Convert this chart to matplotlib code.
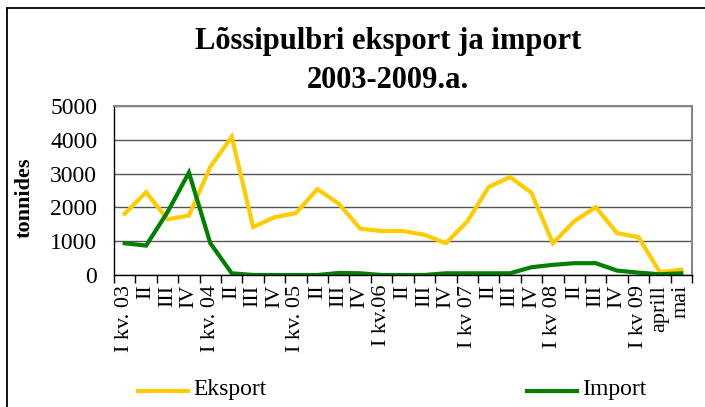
import matplotlib
matplotlib.use("Agg")
import matplotlib.pyplot as plt
from matplotlib.lines import Line2D
import numpy as np

categories = ["I kv. 03", "II", "III", "IV", "I kv. 04", "II", "III", "IV",
              "I kv. 05", "II", "III", "IV", "I kv.06", "II", "III", "IV",
              "I kv 07", "II", "III", "IV", "I kv 08", "II", "III", "IV",
              "I kv 09", "aprill", "mai"]
eksport = [1810, 2450, 1650, 1760, 3200, 4090, 1420, 1710, 1830, 2540, 2110, 1370,
           1300, 1300, 1190, 940, 1580, 2600, 2900, 2430, 940, 1590, 2010, 1240,
           1120, 80, 160]
import_ = [940, 870, 1860, 3030, 940, 50, 0, 0, 0, 0, 60, 50,
           0, 0, 0, 50, 50, 50, 50, 230, 300, 350, 350, 130,
           70, 20, 50]
yticks = [0, 1000, 2000, 3000, 4000, 5000]

plt.rcParams['font.family'] = ['Liberation Serif', 'DejaVu Serif']

W, H = 705, 407
fig = plt.figure(figsize=(W / 100, H / 100), dpi=100)
ax = fig.add_axes([114 / W, 1 - 275 / H, (692 - 114) / W, (275 - 106) / H])

x = np.arange(len(categories))
ax.plot(x, eksport, color="#FFCC00", lw=3, solid_joinstyle="miter")
ax.plot(x, import_, color="#008000", lw=3, solid_joinstyle="miter")

ax.set_xlim(-0.5, len(categories) - 0.5)
ax.set_ylim(0, 5000)
ax.set_yticks(yticks)
ax.set_yticklabels([str(v) for v in yticks], fontsize=17)
ax.yaxis.grid(True, color="#555555", lw=1)
ax.set_axisbelow(True)

ax.set_xticks(np.arange(-0.5, len(categories), 1.0))
ax.set_xticklabels([])
ax.set_xticks(x, minor=True)
ax.set_xticklabels(categories, minor=True, rotation=90, fontsize=16, va="top")
ax.tick_params(axis="x", which="major", direction="out", length=6, width=1, color="black")
ax.tick_params(axis="x", which="minor", length=0, pad=7)
ax.tick_params(axis="y", length=0, pad=12)

for s in ["top", "right"]:
    ax.spines[s].set_color("#888888")
    ax.spines[s].set_linewidth(1.5)
for s in ["left", "bottom"]:
    ax.spines[s].set_color("black")
    ax.spines[s].set_linewidth(1)

ax.set_ylabel("tonnides", fontsize=16, fontweight="bold", va="center")
ax.yaxis.set_label_coords((25 - 114) / (692 - 114), (275 - 198) / (275 - 106))

fig.text(388 / W, 1 - 42 / H, "Lõssipulbri eksport ja import",
         ha="center", va="center", fontsize=22, fontweight="bold")
fig.text(388 / W, 1 - 80 / H, "2003-2009.a.",
         ha="center", va="center", fontsize=22, fontweight="bold")

# legend
fig.add_artist(Line2D([138 / W, 188 / W], [1 - 391 / H] * 2, color="#FFCC00", lw=3,
                      transform=fig.transFigure))
fig.text(193 / W, 1 - 390 / H, "Eksport", ha="left", va="center", fontsize=17)
fig.add_artist(Line2D([527 / W, 577 / W], [1 - 391 / H] * 2, color="#008000", lw=3,
                      transform=fig.transFigure))
fig.text(582 / W, 1 - 390 / H, "Import", ha="left", va="center", fontsize=17)

# outer chart border (left and top visible)
fig.add_artist(Line2D([7 / W, 7 / W], [0, 1 - 8 / H], color="black", lw=1.3,
                      transform=fig.transFigure))
fig.add_artist(Line2D([7 / W, 1], [1 - 8 / H, 1 - 8 / H], color="black", lw=1.3,
                      transform=fig.transFigure))

fig.savefig("out.png", dpi=100)
